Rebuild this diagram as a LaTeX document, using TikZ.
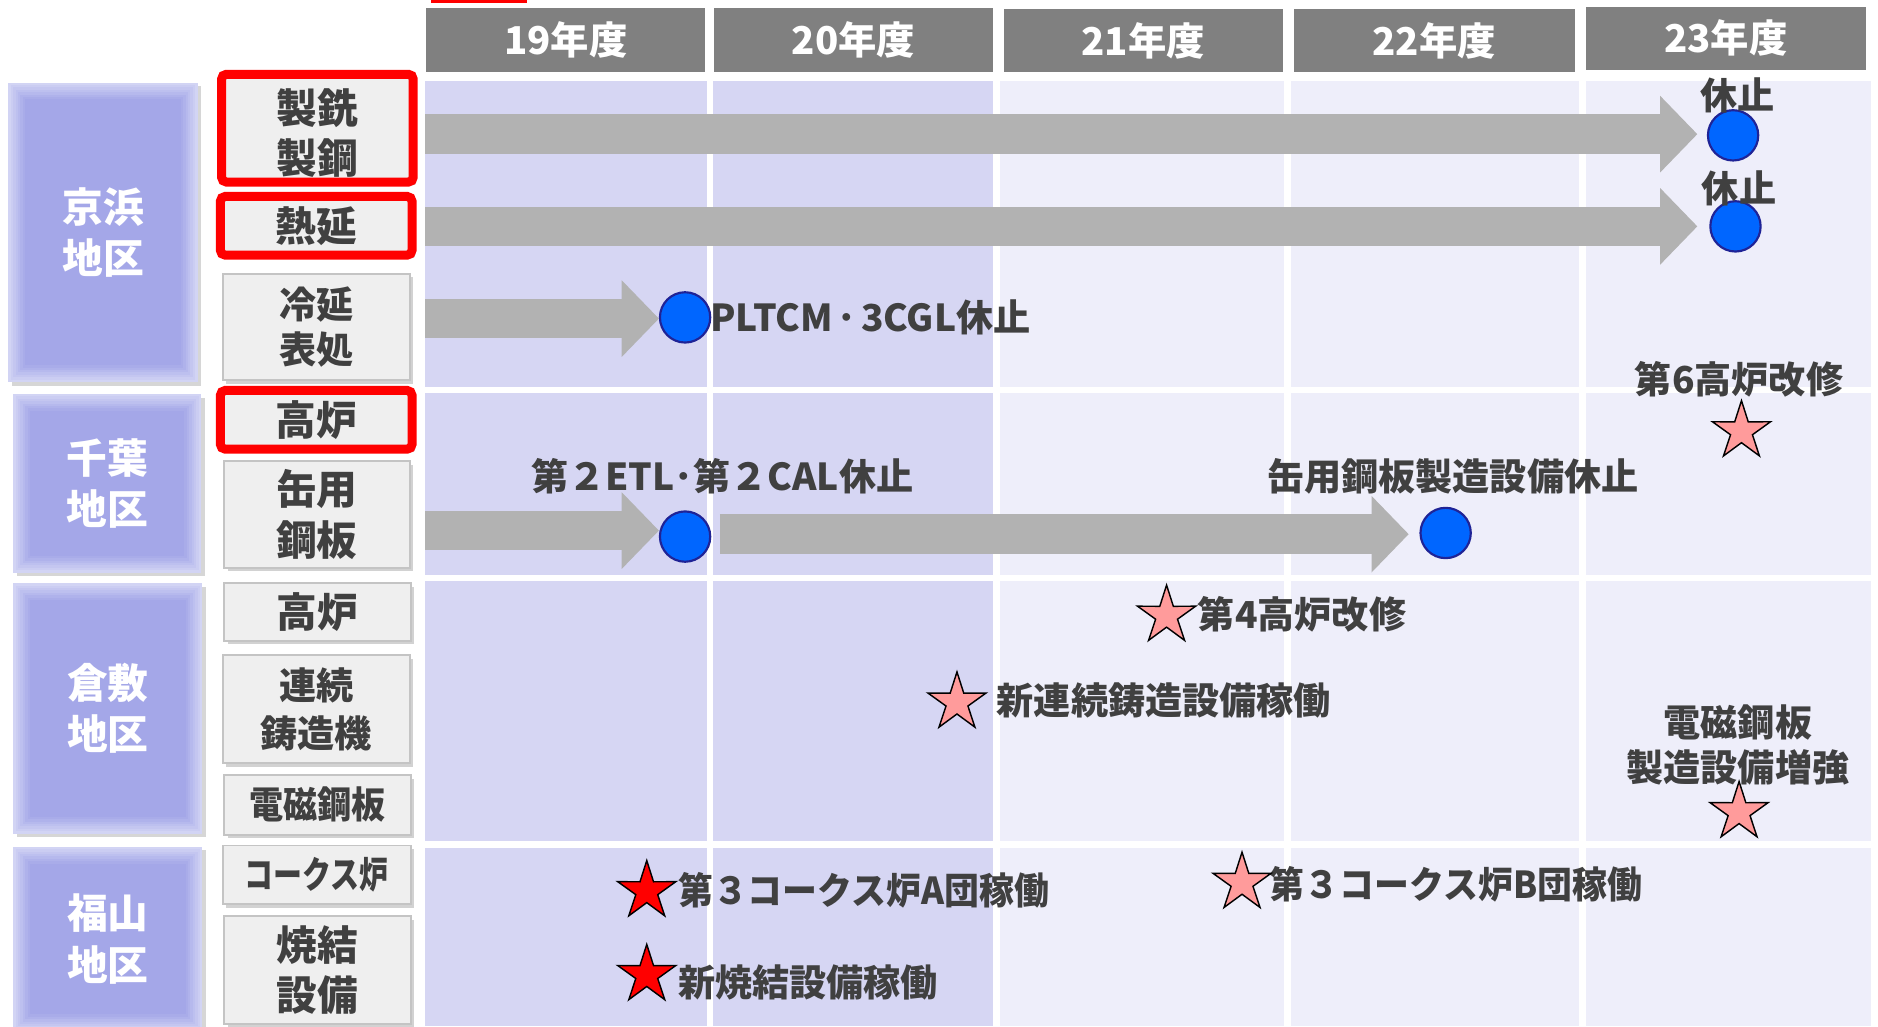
\documentclass[tikz,border=0pt]{standalone}
\usepackage{fontspec}
\usepackage{graphicx}
\setmainfont{Noto Sans CJK JP}
\usetikzlibrary{shapes.geometric,arrows.meta,shadows}
\definecolor{hdr}{HTML}{808080}
\definecolor{darkcell}{HTML}{D6D6F3}
\definecolor{lightcell}{HTML}{EEEEFA}
\definecolor{district}{HTML}{A4A7E8}
\definecolor{districtlight}{HTML}{D2D4F4}
\definecolor{itemfill}{HTML}{EFEFEF}
\definecolor{itemedge}{HTML}{C4C4C4}
\definecolor{txt}{HTML}{404040}
\definecolor{arrowgray}{HTML}{B2B2B2}
\definecolor{dotblue}{HTML}{0066FF}
\definecolor{dotedge}{HTML}{1F2396}
\definecolor{pinkstar}{HTML}{FF9B9B}
\newcommand{\lowtxt}[1]{\raisebox{-4pt}[\height][\depth]{#1}}
\begin{document}
\begin{tikzpicture}[x=1pt,y=-1pt,
  hdrbox/.style={fill=hdr, text=white, minimum width=#1, minimum height=53pt, inner sep=0pt, font=\bfseries\fontsize{32}{36}\selectfont},
  districtbox/.style={fill=districtlight, text=white, align=center, inner sep=0pt,
    font=\bfseries\fontsize{34}{43}\selectfont,
    drop shadow={shadow xshift=3pt, shadow yshift=-3pt, fill=black!40, opacity=0.4},
    path picture={
      \foreach \d/\p in {2/15,4/30,6/45,8/60,10/75,12/90,14/100}{
        \fill[district!\p!districtlight]
          ([shift={(\d pt,-\d pt)}]path picture bounding box.north west)
          rectangle ([shift={(-\d pt,\d pt)}]path picture bounding box.south east);
      }
    }},
  itembox/.style={fill=itemfill, draw=itemedge, line width=1.5pt, text=txt, align=center, inner sep=0pt,
    font=\bfseries\fontsize{34}{42}\selectfont, drop shadow={shadow xshift=3pt, shadow yshift=-3pt, fill=black!35, opacity=0.5}},
  redbox/.style={itembox, draw=red, line width=7.5pt, rounded corners=4pt},
  lbl/.style={text=txt, inner sep=0pt, align=center, font=\bfseries\fontsize{31}{37}\selectfont},
  dot/.style={circle, fill=dotblue, draw=dotedge, line width=1.8pt, minimum size=42pt, inner sep=0pt},
  pstar/.style={star, star points=5, star point ratio=2.65, minimum size=51pt, inner sep=0pt, fill=pinkstar, draw=black, line width=1.2pt},
  rstar/.style={pstar, fill=red},
  blockarrow/.style={draw=arrowgray, line width=33pt, -{Triangle[width=64pt,length=31pt,line width=0pt]}}
]
\useasboundingbox[fill=white] (0,0) rectangle (1568,857);

% red frame remnant at the top
\fill[red] (360,0) rectangle (440,2.5);

% grid cells
\foreach \xa/\xb/\c in {355/590/darkcell, 595/829/darkcell, 835/1072/lightcell, 1078/1318/lightcell, 1324/1562/lightcell}{
  \foreach \ya/\yb in {68/323, 328/480, 485/702, 708/857}{
    \fill[\c] (\xa,\ya) rectangle (\xb,\yb);
  }
}

% year headers
\node[hdrbox=233pt] (h19) at (472.5,33.5) {19年度};
\node[hdrbox=233pt] (h20) at (712.5,33.5) {20年度};
\node[hdrbox=233pt] (h21) at (954.5,34) {21年度};
\node[hdrbox=235pt] (h22) at (1197.5,34) {22年度};
\node[hdrbox=234pt] (h23) at (1441,32) {23年度};

% districts
\node[districtbox, minimum width=158pt, minimum height=250pt] (d1) at (86,194) {京浜\\地区};
\node[districtbox, minimum width=157pt, minimum height=149pt] (d2) at (89.5,403.5) {千葉\\地区};
\node[districtbox, minimum width=158pt, minimum height=209pt] (d3) at (90,591.5) {倉敷\\地区};
\node[districtbox, minimum width=158pt, minimum height=154pt] (d4) at (90,784) {福山\\地区};

% items
\node[redbox, minimum width=160pt, minimum height=90pt] (i1) at (265,107) {\lowtxt{製銑}\\\lowtxt{製鋼}};
\node[redbox, minimum width=160pt, minimum height=49pt] (i2) at (264,188.5) {熱延};
\node[itembox, minimum width=156pt, minimum height=89pt, font=\bfseries\fontsize{31}{38}\selectfont] (i3) at (264,273) {冷延\\表処};
\node[redbox, minimum width=160pt, minimum height=49pt] (i4) at (264,350.5) {高炉};
\node[itembox, minimum width=155pt, minimum height=89pt] (i5) at (264.5,429.5) {缶用\\鋼板};
\node[itembox, minimum width=156pt, minimum height=48pt] (i6) at (265,511) {高炉};
\node[itembox, minimum width=156pt, minimum height=90pt, font=\bfseries\fontsize{31}{40}\selectfont] (i7) at (264,592) {連続\\鋳造機};
\node[itembox, minimum width=156pt, minimum height=50pt, font=\bfseries\fontsize{31}{38}\selectfont] (i8) at (265,672) {\scalebox{0.92}[1]{電磁鋼板}};
\node[itembox, minimum width=157pt, minimum height=49pt, font=\bfseries\fontsize{31}{38}\selectfont] (i9) at (264.5,730.5) {\scalebox{0.78}[1]{コークス炉}};
\node[itembox, minimum width=156pt, minimum height=90pt] (i10) at (265,810) {焼結\\設備};

% circles
\node[dot] (c1) at (1447,113) {};
\node[dot] (c2) at (1449,189) {};
\node[dot] (c3) at (572,265) {};
\node[dot] (c4) at (572,448) {};
\node[dot] (c5) at (1207,445) {};

% arrow starts
\coordinate (a1s) at (355,112);
\coordinate (a2s) at (355,189);
\coordinate (a3s) at (355,266);
\coordinate (a4s) at (355,443);
\coordinate (a5s) at (601,446);

\draw[blockarrow, shorten >=8pt] (a1s) -- (a1s -| c1.west);
\draw[blockarrow, shorten >=10pt] (a2s) -- (a2s -| c2.west);
\draw[blockarrow] (a3s) -- (a3s -| c3.west);
\draw[blockarrow] (a4s) -- (a4s -| c4.west);
\draw[blockarrow, shorten >=9pt] (a5s) -- (a5s -| c5.west);

% labels
\node[lbl] (k1) at (1451,80) {休止};
\node[lbl] (k2) at (1452,157) {休止};
\node[lbl, anchor=west] (t1) at (593,265) {PLTCM\kern4pt･\kern4pt3CGL休止};
\node[lbl] (t2) at (603,398) {第２ETL･第２CAL休止};
\node[lbl] (t3) at (1213,398) {缶用鋼板製造設備休止};
\node[lbl] (t4) at (1452,317) {第6高炉改修};
\node[lbl, anchor=west] (t5) at (1000,513) {第4高炉改修};
\node[lbl, anchor=west] (t6) at (832,585) {新連続鋳造設備稼働};
\node[lbl] (t7) at (1451,622) {電磁鋼板\\製造設備増強};
\node[lbl, anchor=west] (t8) at (566,743) {\scalebox{0.94}[1]{第３コークス炉A団稼働}};
\node[lbl, anchor=west] (t9) at (566,820) {新焼結設備稼働};
\node[lbl, anchor=west] (t10) at (1060,738) {\scalebox{0.94}[1]{第３コークス炉B団稼働}};

% stars
\node[pstar] (s1) at (1454,360) {};
\node[pstar] (s2) at (974,514) {};
\node[pstar] (s3) at (799,586.5) {};
\node[pstar] (s4) at (1452,678) {};
\node[rstar] (s5) at (540,744) {};
\node[rstar] (s6) at (540,814) {};
\node[pstar] (s7) at (1037,737) {};
\end{tikzpicture}
\end{document}
